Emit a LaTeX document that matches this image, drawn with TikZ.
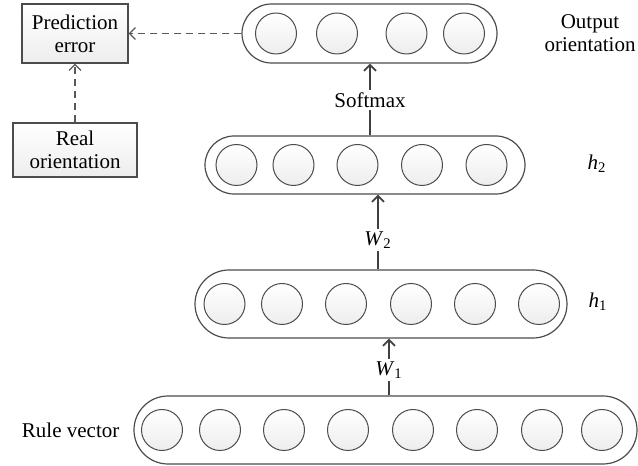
\documentclass[tikz,border=0pt]{standalone}
\usepackage{fontspec}
\setmainfont{Liberation Serif}
\usetikzlibrary{positioning, arrows.meta, shapes.misc}

\begin{document}
\begin{tikzpicture}[
    x=0.5pt, y=0.5pt,
    font=\fontsize{10.5}{11.5}\selectfont,
    layer/.style={draw=black!70, line width=0.6pt, rounded rectangle, minimum height=34pt, inner sep=0pt},
    unit/.style={draw=black!70, line width=0.5pt, circle, minimum size=20.5pt, inner sep=0pt, top color=white, bottom color=black!7},
    box/.style={draw=black!70, line width=0.6pt, align=center, inner sep=1pt, top color=white, bottom color=black!7},
    arr/.style={-{Straight Barb[length=3pt, width=6pt]}, line width=0.9pt, draw=black!75},
    darr/.style={-{Straight Barb[length=3pt, width=6pt]}, dashed, dash pattern=on 3.5pt off 2.5pt, line width=0.6pt, draw=black!65},
    lbl/.style={inner sep=1pt},
]
\useasboundingbox (0,0) rectangle (638,466);

% Bottom: rule vector
\node[layer, minimum width=251.5pt] (rule) at (385.5,36) {};
\foreach \x [count=\i] in {162,220,284,348,413,477,542,602}
    \node[unit] (r\i) at (\x,36) {};
\node[left=3.5pt of rule] (rulelbl) {Rule vector};

% Hidden layer h1
\node[layer, minimum width=186pt] (hone) at (381,162) {};
\foreach \x [count=\i] in {224.5,282,346,411,475,539}
    \node[unit] (a\i) at (\x,162) {};
\node (honelbl) at (598,164) {\textit{h}\textsubscript{1}};

% Hidden layer h2
\node[layer, minimum width=160pt, minimum height=29pt] (htwo) at (365,301) {};
\foreach \x [count=\i] in {236.5,293.5,357.5,422,486.5}
    \node[unit] (b\i) at (\x,301) {};
\node (htwolbl) at (597,302) {\textit{h}\textsubscript{2}};

% Top: output layer
\node[layer, minimum width=127.5pt, minimum height=29.5pt] (out) at (369.5,432.5) {};
\foreach \x [count=\i] in {276,337,406.5,464}
    \node[unit] (o\i) at (\x,432.5) {};
\node[align=center] (outlbl) at (590,433) {Output\\orientation};

% Weights between layers
\node[lbl] (w1) at (389,96) {\textit{W}\textsubscript{1}};
\draw[arr, -] (rule.north -| w1) -- (w1.south);
\draw[arr] (w1.north) -- (hone.south -| w1);

\node[lbl] (w2) at (378,226) {\textit{W}\textsubscript{2}};
\draw[arr, -] (hone.north -| w2) -- (w2.south);
\draw[arr] (w2.north) -- (htwo.south -| w2);

\node[lbl] (smax) at (370,366) {Softmax};
\draw[arr, -] (htwo.north -| smax) -- (smax.south);
\draw[arr] (smax.north) -- (out.south -| smax);

% Error path
\node[box, minimum width=53pt, minimum height=29.5pt] (perr) at (75,432.5) {Prediction\\error};
\node[box, minimum width=62pt, minimum height=27pt] (real) at (75,316) {Real\\orientation};

\draw[darr] (out.west) -- (perr.east);
\draw[darr] (real.north) -- (perr.south);

\end{tikzpicture}
\end{document}
